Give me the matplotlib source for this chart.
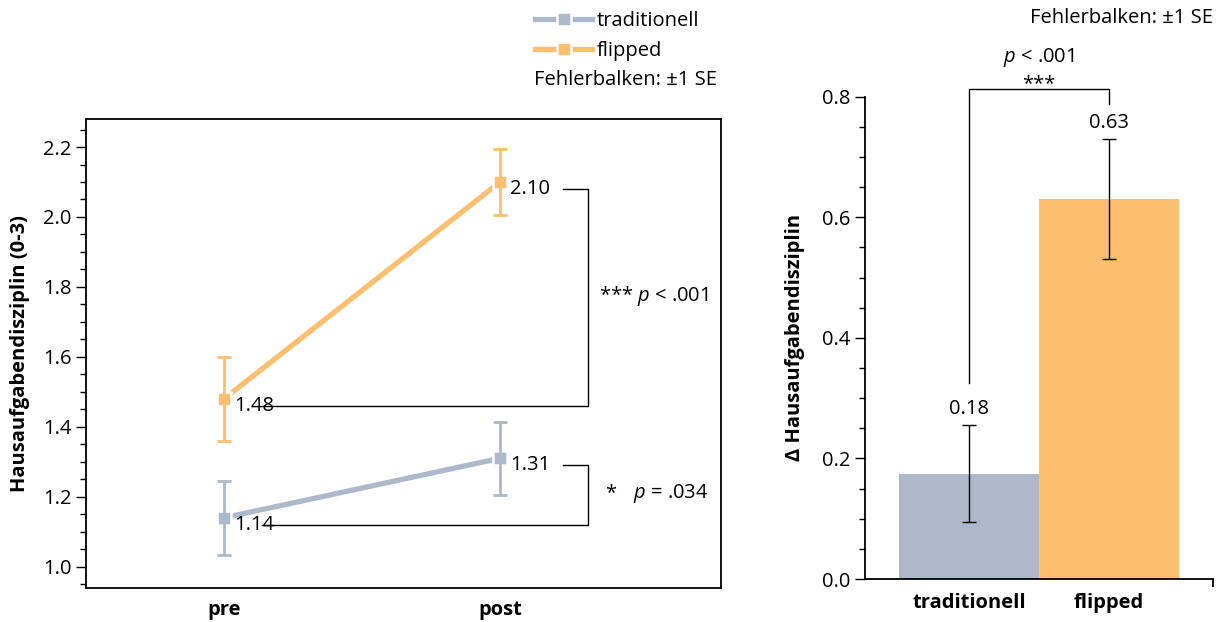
import numpy as np
import matplotlib.pyplot as plt
from matplotlib.lines import Line2D
from matplotlib.ticker import MultipleLocator

plt.rcParams['font.family'] = ['Open Sans', 'DejaVu Sans']
plt.rcParams['mathtext.fontset'] = 'custom'
plt.rcParams['mathtext.rm'] = 'Open Sans'
plt.rcParams['mathtext.it'] = 'Open Sans:italic'

# data
times = ['pre', 'post']
groups = ['traditionell', 'flipped']
trad_mean = [1.14, 1.31]
trad_se = [0.105, 0.105]
flip_mean = [1.48, 2.10]
flip_se = [0.12, 0.095]
delta_mean = [0.175, 0.63]
delta_se = [0.08, 0.10]
delta_labels = ['0.18', '0.63']

grey = '#adb9ca'
orange = '#fcbe6f'
fs = 14.5

fig = plt.figure(figsize=(12.21, 6.22), dpi=100)

# ---------- left panel ----------
ax = fig.add_axes([0.0704, 0.0551, 0.520, 0.7535])
x = np.arange(len(times))
for m, se, c in ((trad_mean, trad_se, grey), (flip_mean, flip_se, orange)):
    ax.plot(x, m, color=c, lw=3.8, zorder=2, solid_capstyle='butt')
    ax.plot(x, m, ls='none', marker='s', ms=10, color=c, mec='white', mew=1.8, zorder=3)
    ax.errorbar(x, m, yerr=se, fmt='none', ecolor=c, elinewidth=2, capsize=5, capthick=2, zorder=4)

ax.set_xlim(-0.5, 1.8)
ax.set_ylim(0.94, 2.28)
ax.set_xticks(x)
ax.set_xticklabels(times, fontweight='bold', fontsize=fs)
ax.tick_params(axis='x', length=0, pad=9)
ax.yaxis.set_major_locator(MultipleLocator(0.2))
ax.yaxis.set_minor_locator(MultipleLocator(0.05))
ax.tick_params(axis='y', which='major', length=7, width=1, labelsize=fs)
ax.tick_params(axis='y', which='minor', length=4, width=1)
ax.set_yticks(np.arange(1.0, 2.21, 0.2))
ax.set_yticklabels(['%.1f' % v for v in np.arange(1.0, 2.21, 0.2)])
ax.set_ylabel('Hausaufgabendisziplin (0-3)', fontweight='bold', fontsize=fs, labelpad=9)
for s in ax.spines.values():
    s.set_linewidth(1.3)

# value labels
off = -0.02
for m in (trad_mean, flip_mean):
    for xi, v in zip(x, m):
        ax.text(xi + 0.036, v + off, '%.2f' % v, fontsize=fs, va='center', ha='left')

# brackets
bx = 1.319
ax.plot([0.138, bx, bx, 1.228], [flip_mean[0] + off, flip_mean[0] + off,
        flip_mean[1] + off, flip_mean[1] + off], color='black', lw=1)
ax.plot([1.228, bx, bx, 0.138], [trad_mean[1] + off, trad_mean[1] + off,
        trad_mean[0] + off, trad_mean[0] + off], color='black', lw=1)
ax.text(1.36, (flip_mean[0] + flip_mean[1]) / 2 - 0.015, r'*** $p$ < .001', fontsize=fs, va='center')
ax.text(1.38, (trad_mean[0] + trad_mean[1]) / 2 - 0.015, '*', fontsize=fs, va='center')
ax.text(1.48, (trad_mean[0] + trad_mean[1]) / 2 - 0.015, r'$p$ = .034', fontsize=fs, va='center')

handles = [Line2D([], [], color=grey, lw=3.8, marker='s', ms=10, mec='white', mew=1.8),
           Line2D([], [], color=orange, lw=3.8, marker='s', ms=10, mec='white', mew=1.8)]
fig.legend(handles, groups, loc='upper left', bbox_to_anchor=(0.4295, 1.0), frameon=False,
           fontsize=fs, handlelength=2.8, handletextpad=0.25, labelspacing=0.5, borderpad=0.05)
fig.text(534 / 1221, 1 - 80 / 622, 'Fehlerbalken: \u00b11 SE', fontsize=fs, va='center', ha='left')

# ---------- right panel ----------
ax2 = fig.add_axes([0.7084, 0.0691, 0.285, 0.7754])
xb = np.arange(len(groups))
ax2.bar(xb, delta_mean, width=1.0, color=[grey, orange], zorder=1)
ax2.errorbar(xb, delta_mean, yerr=delta_se, fmt='none', ecolor='black', elinewidth=1,
             capsize=5, capthick=1, zorder=3)
for xi, v, se, lab in zip(xb, delta_mean, delta_se, delta_labels):
    ax2.text(xi, v + se + 0.01, lab, ha='center', va='bottom', fontsize=fs)

ax2.set_xlim(-0.743, 1.743)
ax2.set_ylim(0, 0.8)
ax2.spines['top'].set_visible(False)
ax2.spines['right'].set_visible(False)
for s in ('left', 'bottom'):
    ax2.spines[s].set_linewidth(1.3)
ax2.set_xticks(xb)
ax2.set_xticklabels(groups, fontweight='bold', fontsize=fs)
ax2.set_xticks([1.743], minor=True)
ax2.tick_params(axis='x', which='major', length=0, pad=10)
ax2.tick_params(axis='x', which='minor', length=6, width=1.3)
ax2.yaxis.set_major_locator(MultipleLocator(0.2))
ax2.yaxis.set_minor_locator(MultipleLocator(0.05))
ax2.tick_params(axis='y', which='major', length=7, width=1, labelsize=fs)
ax2.tick_params(axis='y', which='minor', length=4, width=1)
ax2.set_ylabel('\u0394 Hausaufgabendisziplin', fontweight='bold', fontsize=fs, labelpad=12)

top = 0.813
ax2.plot([0, 0, 1, 1], [delta_mean[0] + delta_se[0] + 0.07, top, top,
         delta_mean[1] + delta_se[1] + 0.058], color='black', lw=1, clip_on=False)
ax2.text(0.5, top - 0.008, '***', ha='center', va='bottom', fontsize=fs)
ax2.text(0.5, top + 0.052, r'$p$ < .001', ha='center', va='center', fontsize=fs)
fig.text(1213 / 1221, 1 - 18 / 622, 'Fehlerbalken: \u00b11 SE', fontsize=fs, va='center', ha='right')

fig.savefig('out.png', dpi=100)
